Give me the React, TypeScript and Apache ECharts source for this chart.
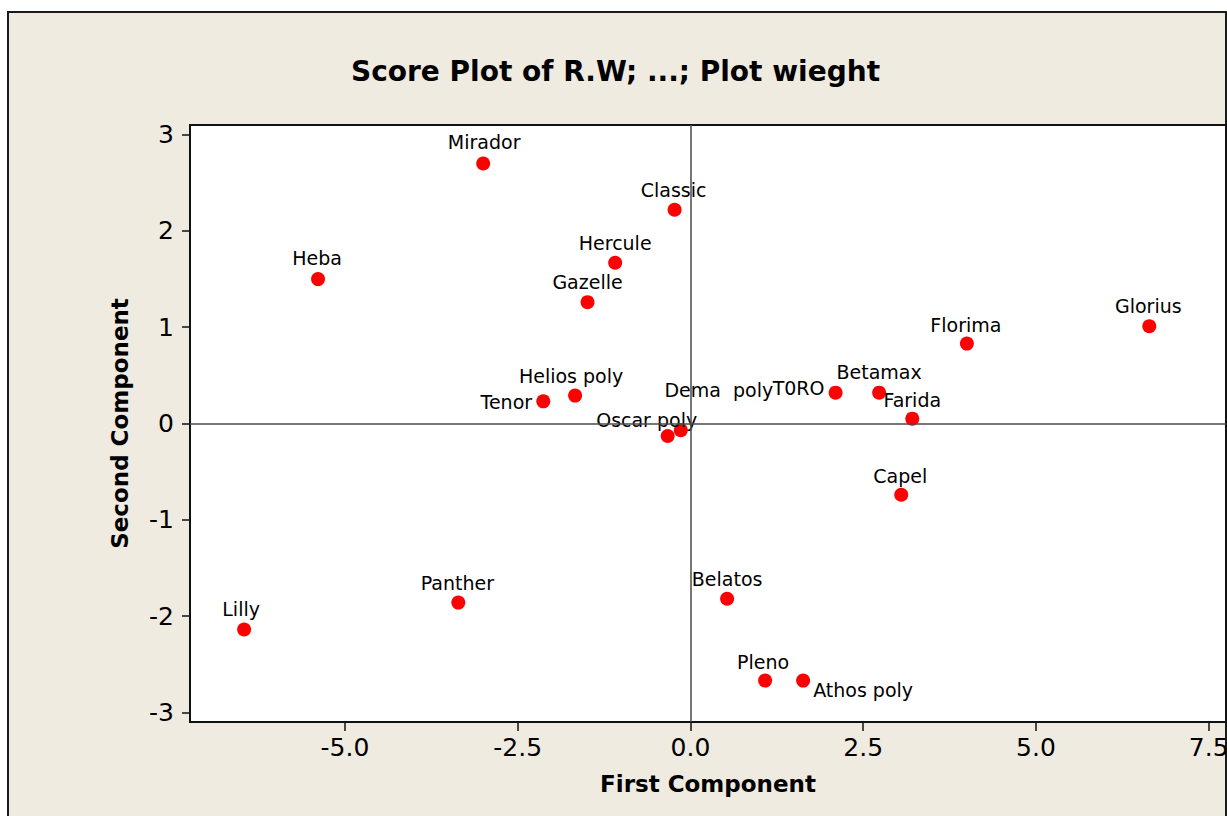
import React, { useEffect, useRef } from "react";
import * as echarts from "echarts";

const names = [
  "Mirador", "Classic", "Hercule", "Heba", "Gazelle", "Glorius", "Florima",
  "Helios poly", "Tenor", "T0RO", "Betamax", "Farida", "Dema  poly", "Oscar poly",
  "Capel", "Panther", "Lilly", "Belatos", "Pleno", "Athos poly",
];
const firstComponent = [
  -3.0, -0.23, -1.09, -5.39, -1.49, 6.64, 4.0,
  -1.67, -2.13, 2.1, 2.73, 3.21, -0.14, -0.33,
  3.05, -3.36, -6.46, 0.53, 1.08, 1.63,
];
const secondComponent = [
  2.7, 2.22, 1.67, 1.5, 1.26, 1.01, 0.83,
  0.29, 0.23, 0.32, 0.32, 0.05, -0.07, -0.13,
  -0.74, -1.86, -2.14, -1.82, -2.67, -2.67,
];
const xTicks = [-5, -2.5, 0, 2.5, 5, 7.5];
const yTicks = [-3, -2, -1, 0, 1, 2, 3];

// label placement relative to each marker (pixels)
const labelOffsets: [number, number][] = [
  [1, -22], [-1, -20], [0, -20], [-1, -21], [0, -20], [-1, -20], [-1, -19],
  [-4, -20], [-37, 1], [-37, -5], [0, -21], [0, -19], [38, -40], [-21, -16],
  [-1, -19], [-1, -20], [-3, -21], [0, -20], [-2, -19], [60, 9],
];

const FONT = "'DejaVu Sans', Verdana, sans-serif";

export default function App() {
  const ref = useRef<HTMLDivElement>(null);
  useEffect(() => {
    if (!ref.current) return;
    const chart = echarts.init(ref.current, undefined, { renderer: "svg" });
    const data = names.map((n, i) => ({
      name: n,
      value: [firstComponent[i], secondComponent[i]],
    }));
    chart.setOption({
      animation: false,
      backgroundColor: "#ffffff",
      textStyle: { fontFamily: FONT },
      title: {
        text: "Score Plot of R.W; ...; Plot wieght",
        left: 346,
        top: 52,
        textStyle: { fontFamily: FONT, fontSize: 28, fontWeight: "bold", color: "#000" },
      },
      graphic: [
        {
          type: "rect",
          z: -10,
          shape: { x: 8, y: 12, width: 1218, height: 830 },
          style: { fill: "#EFEBE1", stroke: "#1a1a1a", lineWidth: 2 },
          silent: true,
        },
      ],
      grid: {
        left: 190,
        top: 125,
        width: 1036,
        height: 597,
        containLabel: false,
        outerBoundsMode: "none",
        show: true,
        backgroundColor: "#ffffff",
        borderColor: "#111",
        borderWidth: 2,
      },
      xAxis: {
        type: "value",
        min: -7.243,
        max: 7.75,
        name: "First Component",
        nameLocation: "middle",
        nameGap: 50,
        nameTextStyle: { fontFamily: FONT, fontSize: 23, fontWeight: "bold", color: "#000" },
        splitLine: { show: false },
        axisLine: { show: true, onZero: false, lineStyle: { color: "#111", width: 2 } },
        axisTick: { show: true, customValues: xTicks, length: 9, lineStyle: { color: "#111", width: 1.5 } },
        axisLabel: {
          customValues: xTicks,
          formatter: (v: number) => v.toFixed(1),
          fontFamily: FONT,
          fontSize: 25,
          color: "#000",
          margin: 13,
          hideOverlap: false,
        },
      },
      yAxis: {
        type: "value",
        min: -3.1,
        max: 3.1,
        name: "Second Component",
        nameLocation: "middle",
        nameGap: 59,
        nameTextStyle: { fontFamily: FONT, fontSize: 23, fontWeight: "bold", color: "#000" },
        splitLine: { show: false },
        axisLine: { show: true, onZero: false, lineStyle: { color: "#111", width: 2 } },
        axisTick: { show: true, customValues: yTicks, length: 8, lineStyle: { color: "#111", width: 1.5 } },
        axisLabel: {
          customValues: yTicks,
          formatter: (v: number) => String(v),
          fontFamily: FONT,
          fontSize: 25,
          color: "#000",
          margin: 16,
        },
      },
      series: [
        {
          type: "scatter",
          symbol: "circle",
          symbolSize: 14,
          itemStyle: { color: "#FF0000", opacity: 1 },
          data,
          label: {
            show: true,
            position: "inside",
            formatter: "{b}",
            fontFamily: FONT,
            fontSize: 19,
            color: "#000",
          },
          labelLayout: (params: any) => ({
            dx: labelOffsets[params.dataIndex][0],
            dy: labelOffsets[params.dataIndex][1],
            hideOverlap: false,
          }),
          markLine: {
            silent: true,
            symbol: "none",
            label: { show: false },
            lineStyle: { color: "#4a4a4a", width: 1.5, type: "solid" },
            data: [{ xAxis: 0 }, { yAxis: 0 }],
          },
        },
      ],
    });
    return () => chart.dispose();
  }, []);
  return (
    <div
      ref={ref}
      style={{ position: "absolute", left: 0, top: 0, width: 1227, height: 816 }}
    />
  );
}
